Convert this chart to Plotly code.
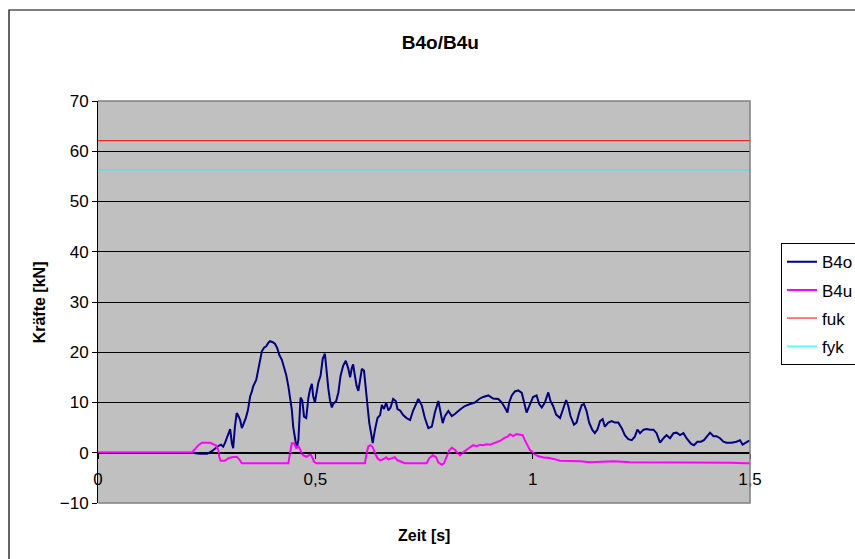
import plotly.graph_objects as go

# Messzeitpunkte [s] und Kräfte [kN] der Messstelle B4o
t_b4o = [0.000, 0.214, 0.235, 0.251, 0.262, 0.269, 0.276, 0.283, 0.288, 0.292,
         0.297, 0.304, 0.308, 0.311, 0.315, 0.319, 0.322, 0.327, 0.331, 0.334,
         0.340, 0.345, 0.350, 0.354, 0.357, 0.364, 0.369, 0.374, 0.377, 0.382,
         0.387, 0.392, 0.396, 0.402, 0.407, 0.412, 0.417, 0.423, 0.428, 0.433,
         0.438, 0.442, 0.446, 0.449, 0.453, 0.457, 0.461, 0.463, 0.466, 0.470,
         0.472, 0.474, 0.479, 0.484, 0.488, 0.492, 0.495, 0.499, 0.503, 0.507,
         0.512, 0.517, 0.522, 0.526, 0.530, 0.534, 0.538, 0.541, 0.548, 0.553,
         0.558, 0.564, 0.570, 0.576, 0.580, 0.584, 0.587, 0.591, 0.595, 0.599,
         0.603, 0.607, 0.612, 0.616, 0.620, 0.624, 0.628, 0.632, 0.637, 0.643,
         0.649, 0.653, 0.658, 0.663, 0.668, 0.673, 0.679, 0.685, 0.689, 0.695,
         0.702, 0.710, 0.718, 0.725, 0.737, 0.745, 0.752, 0.760, 0.768, 0.775,
         0.783, 0.788, 0.793, 0.798, 0.806, 0.814, 0.821, 0.833, 0.844, 0.856,
         0.867, 0.877, 0.886, 0.898, 0.909, 0.921, 0.929, 0.936, 0.942, 0.946,
         0.952, 0.959, 0.967, 0.975, 0.980, 0.986, 0.994, 1.001, 1.009, 1.015,
         1.021, 1.028, 1.036, 1.041, 1.047, 1.054, 1.063, 1.070, 1.077, 1.082,
         1.087, 1.095, 1.101, 1.107, 1.113, 1.118, 1.124, 1.130, 1.137, 1.143,
         1.149, 1.155, 1.161, 1.166, 1.174, 1.182, 1.189, 1.197, 1.205, 1.212,
         1.220, 1.228, 1.235, 1.241, 1.247, 1.255, 1.262, 1.270, 1.278, 1.285,
         1.293, 1.301, 1.308, 1.316, 1.324, 1.331, 1.339, 1.347, 1.354, 1.364,
         1.371, 1.379, 1.387, 1.394, 1.402, 1.408, 1.416, 1.423, 1.431, 1.439,
         1.446, 1.458, 1.469, 1.477, 1.483, 1.489, 1.496, 1.500]
f_b4o = [0.0, 0.0, -0.2, -0.2, 0.3, 0.9, 1.3, 1.6, 1.2, 1.9,
         3.2, 4.7, 1.9, 0.9, 5.2, 7.9, 7.5, 6.5, 4.9, 5.5,
         6.9, 8.5, 11.2, 12.2, 13.2, 14.5, 16.5, 18.5, 20.2, 20.9,
         21.2, 21.9, 22.2, 22.0, 21.7, 20.9, 19.5, 18.5, 17.2, 15.5,
         13.2, 11.2, 8.5, 5.2, 2.5, 0.9, 2.5, 5.2, 11.0, 10.4,
         9.0, 7.2, 6.9, 10.9, 12.7, 13.7, 11.3, 10.0, 12.0, 14.0,
         15.3, 18.7, 19.7, 16.0, 12.7, 10.3, 9.0, 9.7, 10.3, 12.0,
         15.3, 17.3, 18.3, 16.7, 15.0, 16.9, 17.6, 15.3, 13.3, 12.3,
         14.7, 16.7, 16.3, 12.7, 8.7, 6.0, 4.0, 1.9, 4.5, 6.9,
         7.5, 9.5, 8.7, 10.0, 8.4, 9.0, 10.7, 10.3, 8.7, 8.4,
         7.5, 6.9, 6.5, 8.4, 10.7, 9.4, 6.9, 4.9, 5.2, 8.0,
         10.3, 8.0, 5.9, 7.3, 8.3, 7.3, 7.7, 8.6, 9.3, 9.7,
         10.0, 10.7, 11.1, 11.4, 10.8, 10.7, 10.0, 9.0, 8.0, 10.0,
         11.4, 12.2, 12.4, 11.9, 10.0, 8.0, 9.7, 11.1, 11.4, 9.7,
         9.0, 10.0, 12.0, 10.3, 9.3, 7.6, 6.9, 8.9, 10.5, 9.3,
         7.3, 5.6, 6.0, 8.0, 9.5, 9.7, 8.3, 6.0, 4.6, 3.9,
         4.6, 6.3, 6.7, 5.2, 6.0, 6.3, 6.0, 6.0, 4.9, 3.5,
         2.7, 2.5, 3.2, 4.6, 3.9, 4.6, 4.7, 4.6, 4.6, 3.9,
         2.0, 2.9, 3.5, 2.9, 3.9, 4.0, 3.5, 3.9, 2.9, 1.8,
         1.5, 2.2, 2.2, 2.5, 3.5, 4.0, 3.3, 3.3, 2.9, 2.2,
         2.0, 2.0, 2.2, 2.5, 1.6, 2.0, 2.3, 2.4]

# Messzeitpunkte [s] und Kräfte [kN] der Messstelle B4u
t_b4u = [0.000, 0.216, 0.223, 0.231, 0.239, 0.258, 0.265, 0.271, 0.277, 0.279,
         0.282, 0.292, 0.300, 0.308, 0.319, 0.325, 0.331, 0.438, 0.442, 0.446,
         0.451, 0.456, 0.461, 0.465, 0.469, 0.472, 0.479, 0.484, 0.489, 0.494,
         0.497, 0.503, 0.614, 0.618, 0.622, 0.627, 0.632, 0.637, 0.643, 0.649,
         0.656, 0.663, 0.668, 0.676, 0.683, 0.689, 0.699, 0.706, 0.756, 0.762,
         0.770, 0.778, 0.783, 0.791, 0.796, 0.802, 0.808, 0.814, 0.821, 0.827,
         0.833, 0.840, 0.848, 0.856, 0.863, 0.871, 0.879, 0.886, 0.894, 0.902,
         0.909, 0.919, 0.926, 0.934, 0.942, 0.948, 0.955, 0.963, 0.971, 0.977,
         0.982, 0.988, 0.994, 0.999, 1.005, 1.013, 1.021, 1.028, 1.036, 1.044,
         1.051, 1.063, 1.078, 1.093, 1.109, 1.132, 1.155, 1.186, 1.224, 1.262,
         1.301, 1.339, 1.377, 1.416, 1.454, 1.492, 1.500]
f_b4u = [0.0, 0.0, 0.7, 1.5, 2.0, 2.0, 1.7, 1.5, 0.5, -0.8,
         -1.6, -1.6, -1.1, -0.9, -0.8, -1.3, -2.1, -2.1, 0.0, 1.9,
         1.9, 1.0, 1.3, 0.7, -0.2, -0.5, -0.8, -0.5, -0.3, -1.1,
         -1.8, -2.1, -2.1, -0.1, 1.3, 1.5, 1.1, 0.0, -1.1, -1.5,
         -1.3, -0.9, -1.3, -1.1, -0.9, -1.5, -1.8, -2.1, -2.1, -1.1,
         -0.5, -0.9, -1.9, -2.4, -2.1, -0.9, 0.5, 1.0, 0.6, 0.0,
         -0.5, 0.1, 0.6, 1.2, 1.5, 1.3, 1.6, 1.5, 1.7, 1.6,
         1.8, 2.2, 2.4, 2.9, 3.2, 3.7, 3.3, 3.7, 3.5, 3.5,
         2.5, 1.5, 0.5, 0.2, -0.3, -0.7, -0.9, -1.0, -1.0, -1.1,
         -1.3, -1.6, -1.6, -1.7, -1.7, -1.9, -1.8, -1.7, -1.9, -1.9,
         -1.9, -2.0, -2.0, -2.0, -2.0, -2.1, -2.1]

# Grenzwerte [kN]
t_range = [0.0, 1.5]
fuk = 62.1
fyk = 56.3

y_ticks = [-10, 0, 10, 20, 30, 40, 50, 60, 70]

FONT = "Arial, 'Liberation Sans', sans-serif"

fig = go.Figure()
fig.add_trace(go.Scatter(x=t_b4o, y=f_b4o, mode="lines", name="B4o",
                         line=dict(color="#000080", width=2), legendgroup="a"))
fig.add_trace(go.Scatter(x=t_b4u, y=f_b4u, mode="lines", name="B4u",
                         line=dict(color="#FF00FF", width=2), legendgroup="b"))
fig.add_trace(go.Scatter(x=t_range, y=[fuk, fuk], mode="lines", name="fuk",
                         line=dict(color="#FF0000", width=1), legendgroup="c"))
fig.add_trace(go.Scatter(x=t_range, y=[fyk, fyk], mode="lines", name="fyk",
                         line=dict(color="#00FFFF", width=1), legendgroup="d"))

fig.update_layout(
    width=855, height=559,
    margin=dict(l=98, r=105, t=101, b=56, autoexpand=False),
    paper_bgcolor="white",
    plot_bgcolor="#C0C0C0",
    separators=",.",
    font=dict(family=FONT, size=17, color="black"),
    title=dict(text="<b>B4o/B4u</b>", x=0.515, xanchor="center",
               y=0.925, yanchor="middle", font=dict(size=19)),
    showlegend=True,
    legend=dict(x=1.0475, xanchor="left", y=0.646, yanchor="top",
                bgcolor="white", bordercolor="black", borderwidth=1,
                font=dict(size=17), tracegroupgap=3, traceorder="grouped"),
    xaxis=dict(range=[0, 1.5], dtick=0.5, tick0=0, anchor="free", position=0.125,
               showgrid=False, zeroline=False, showline=True, linecolor="black",
               linewidth=1, ticks="outside", ticklen=5, tickcolor="black",
               ticklabelstandoff=6),
    yaxis=dict(range=[-10, 70], tickvals=y_ticks, showgrid=True, gridcolor="black",
               gridwidth=1, zeroline=False, showline=True, linecolor="black",
               linewidth=1, ticks="outside", ticklen=5, tickcolor="black"),
    shapes=[
        # Rahmen der Zeichenfläche (oben, rechts, unten)
        dict(type="path", xref="paper", yref="paper",
             path="M 0,1 L 1,1 L 1,0 L 0,0", line=dict(color="#808080", width=1.5)),
        # Diagrammrahmen
        dict(type="rect", xref="paper", yref="paper", x0=-0.1365, y0=-0.2,
             x1=1.3, y1=1.2264, line=dict(color="black", width=1.2)),
    ],
    annotations=[
        dict(text="<b>Zeit [s]</b>", xref="paper", yref="paper", x=0.5, y=-0.08,
             xanchor="center", yanchor="middle", showarrow=False, font=dict(size=16)),
        dict(text="<b>Kräfte [kN]</b>", xref="paper", yref="paper", x=-0.09, y=0.5,
             textangle=-90, xanchor="center", yanchor="middle", showarrow=False,
             font=dict(size=16)),
    ],
)

fig.write_html("out.html")
